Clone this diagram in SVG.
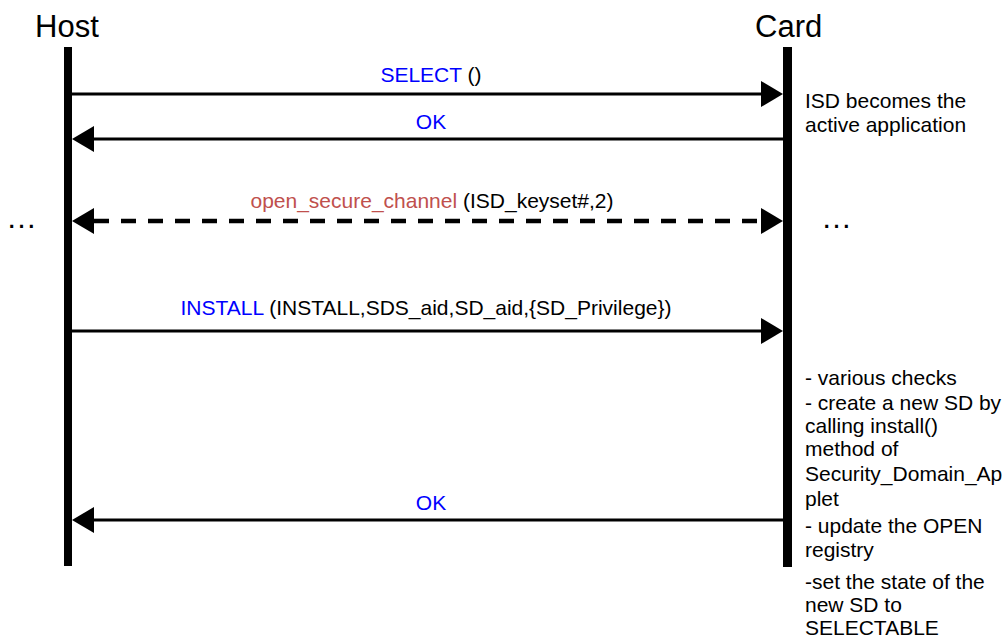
<svg xmlns="http://www.w3.org/2000/svg" width="1007" height="643" viewBox="0 0 1007 643">
  <style>
    text { font-family: "Liberation Sans", Arial, sans-serif; fill: #000; }
    .actor { font-size: 31px; }
    .lbl { font-size: 21px; text-anchor: middle; }
    .note { font-size: 21px; }
    .cmd { fill: #0000FF; }
    .sec { fill: #C0504D; }
    .msg { stroke: #000; stroke-width: 3; fill: none; }
    .dash { stroke: #000; stroke-width: 4.5; fill: none; stroke-dasharray: 15 12; }
    .life { fill: #000; }
  </style>
  <defs>
    <marker id="head" viewBox="0 0 22 26" refX="0" refY="13" markerWidth="22" markerHeight="26" markerUnits="userSpaceOnUse" orient="auto-start-reverse">
      <path d="M0,0 L22,13 L0,26 Z" fill="#000"/>
    </marker>
  </defs>

  <rect width="1007" height="643" fill="#fff"/>

  <!-- lifelines -->
  <g id="host">
    <text class="actor" x="35" y="37">Host</text>
    <rect class="life" x="64" y="47" width="8" height="519"/>
    <text class="actor" x="6" y="228">…</text>
  </g>
  <g id="card">
    <text class="actor" x="755" y="37">Card</text>
    <rect class="life" x="783" y="47" width="9" height="520"/>
    <text class="actor" x="821" y="228">…</text>
  </g>

  <!-- card-side notes -->
  <g id="note-select">
    <text class="note" x="805" y="108">ISD becomes the</text>
    <text class="note" x="805" y="132">active application</text>
  </g>
  <g id="note-install">
    <text class="note" x="805" y="385">- various checks</text>
    <text class="note" x="805" y="410">- create a new SD by</text>
    <text class="note" x="805" y="433">calling install()</text>
    <text class="note" x="805" y="456">method of</text>
    <text class="note" x="805" y="481">Security_Domain_Ap</text>
    <text class="note" x="805" y="506">plet</text>
    <text class="note" x="805" y="533">- update the OPEN</text>
    <text class="note" x="805" y="557">registry</text>
    <text class="note" x="805" y="589">-set the state of the</text>
    <text class="note" x="805" y="612">new SD to</text>
    <text class="note" x="805" y="635">SELECTABLE</text>
  </g>

  <!-- messages -->
  <g id="connectors">
    <line class="msg" x1="72" y1="94" x2="761" y2="94" marker-end="url(#head)"/>
    <line class="msg" x1="783" y1="139" x2="94" y2="139" marker-end="url(#head)"/>
    <line class="dash" x1="94" y1="221" x2="761" y2="221" marker-start="url(#head)" marker-end="url(#head)"/>
    <line class="msg" x1="72" y1="331" x2="761" y2="331" marker-end="url(#head)"/>
    <line class="msg" x1="783" y1="520" x2="94" y2="520" marker-end="url(#head)"/>
  </g>

  <g id="labels">
    <text class="lbl" x="431" y="82"><tspan class="cmd">SELECT</tspan> ()</text>
    <text class="lbl cmd" x="431" y="129">OK</text>
    <text class="lbl" x="432" y="208"><tspan class="sec">open_secure_channel</tspan> (ISD_keyset#,2)</text>
    <text class="lbl" x="426" y="315"><tspan class="cmd">INSTALL</tspan> (INSTALL,SDS_aid,SD_aid,{SD_Privilege})</text>
    <text class="lbl cmd" x="431" y="510">OK</text>
  </g>
</svg>
